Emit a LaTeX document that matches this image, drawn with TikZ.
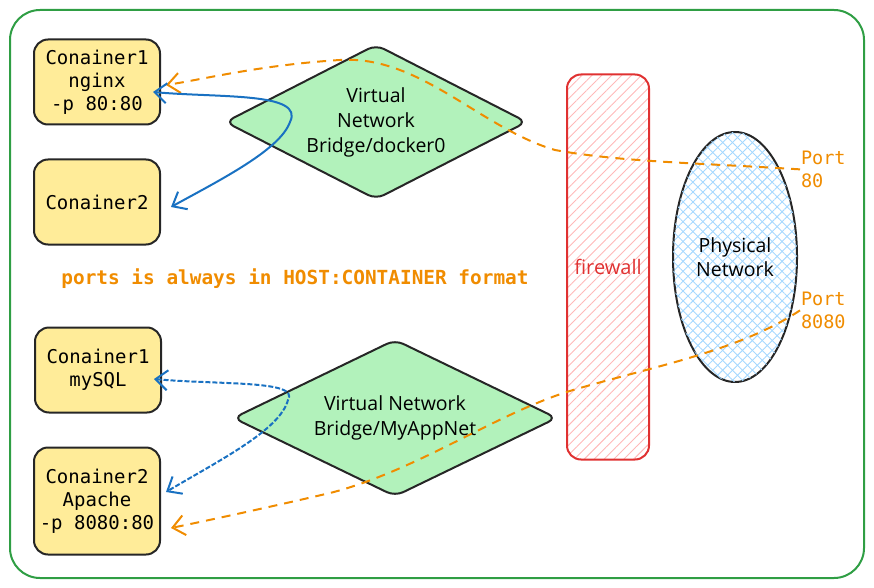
\documentclass[tikz,border=0pt]{standalone}
\usepackage{fontspec}
\setmainfont{Open Sans}
\newfontfamily\monofont{DejaVu Sans Mono}
\usetikzlibrary{arrows.meta,shapes.geometric,patterns.meta}
\definecolor{frame}{HTML}{2F9E44}
\definecolor{boxfill}{HTML}{FFEC99}
\definecolor{bridgefill}{HTML}{B2F2BB}
\definecolor{wallred}{HTML}{E03131}
\definecolor{hatchred}{HTML}{FFB8B8}
\definecolor{netblue}{HTML}{A5D8FF}
\definecolor{linkblue}{HTML}{1971C2}
\definecolor{portorange}{HTML}{F08C00}

\begin{document}
\begin{tikzpicture}[x=1pt,y=-1pt,line width=2pt,
  box/.style={draw=black!85,fill=boxfill,rounded corners=14pt,minimum width=126pt,minimum height=85pt,inner sep=2pt,align=center,font=\monofont\fontsize{19}{23}\selectfont},
  bridge/.style={diamond,aspect=2,draw=black!85,fill=bridgefill,rounded corners=9pt,inner sep=0pt,align=center,font=\fontsize{19.5}{25}\selectfont},
  port/.style={text=portorange,align=left,inner sep=0pt,font=\monofont\fontsize{18.5}{23}\selectfont},
  link/.style={draw=linkblue,-{Straight Barb[length=12pt,width=20pt]}},
  route/.style={draw=portorange,dash pattern=on 9pt off 7pt,-{Straight Barb[length=12pt,width=20pt]}}]
  \useasboundingbox (0,0) rectangle (874,588);
  \draw[frame,rounded corners=30pt] (10,10) rectangle (864,578);

  % containers
  \node[box]                      (nginx)  at (97,82)  {Conainer1\\nginx\\-p 80:80};
  \node[box]                      (cont2)  at (97,202) {Conainer2};
  \node[box]                      (mysql)  at (98,370) {Conainer1\\mySQL};
  \node[box,minimum height=107pt] (apache) at (97,501) {Conainer2\\Apache\\-p 8080:80};

  % bridges
  \node[bridge,minimum width=302pt,minimum height=155pt] (docker) at (376,122) {Virtual\\Network\\Bridge/docker0};
  \node[bridge,minimum width=324pt,minimum height=157pt] (appnet) at (395,418) {Virtual Network\\Bridge/MyAppNet};

  % firewall and host side
  \node[draw=wallred,rounded corners=14pt,minimum width=82pt,minimum height=385pt,
        pattern={Lines[angle=45,distance=7pt,line width=0.9pt]},pattern color=hatchred,
        text=wallred,font=\fontsize{20}{20}\selectfont] (wall) at (608,267) {firewall};
  \node[ellipse,draw=black!85,minimum width=124pt,minimum height=250pt,inner sep=0pt,align=center,
        pattern={Lines[angle=45,distance=7pt,line width=0.9pt]},pattern color=netblue,
        postaction={pattern={Lines[angle=-45,distance=7pt,line width=0.9pt]},pattern color=netblue},
        font=\fontsize{19.5}{24}\selectfont] (phys) at (735,257) {Physical\\Network};
  \node[port,anchor=north west] (p80)   at (800,150) {Port\\80};
  \node[port,anchor=north west] (p8080) at (800,291) {Port\\8080};

  \node[text=portorange,font=\monofont\bfseries\fontsize{19.4}{23}\selectfont] (note) at (295,279)
        {ports is always in HOST:CONTAINER format};

  % port mappings
  \path[route] (p80.west) .. controls (700,163) and (620,162) .. (555,150)
        .. controls (480,128) and (420,55) .. (340,60)
        .. controls (260,65) and (200,80) .. ([shift={(5,3)}]nginx.east);
  \path[route] (p8080.west) .. controls (740,350) and (660,365) .. (580,388)
        .. controls (500,410) and (420,470) .. (330,493)
        .. controls (270,507) and (210,520) .. ([shift={(10,27)}]apache.east);

  % bridge links
  \path[link,{Straight Barb[length=12pt,width=20pt]}-{Straight Barb[length=12pt,width=20pt]}]
        ([shift={(-8,10)}]nginx.east) .. controls (220,98) and (305,92) .. (290,122)
        .. controls (280,150) and (220,180) .. ([shift={(10,5)}]cont2.east);
  \path[link,dash pattern=on 5pt off 2pt,{Straight Barb[length=12pt,width=20pt]}-{Straight Barb[length=12pt,width=20pt]}]
        ([shift={(-8,9)}]mysql.east) .. controls (220,385) and (300,380) .. (288,400)
        .. controls (280,430) and (220,460) .. ([shift={(5,-9)}]apache.east);
\end{tikzpicture}
\end{document}
